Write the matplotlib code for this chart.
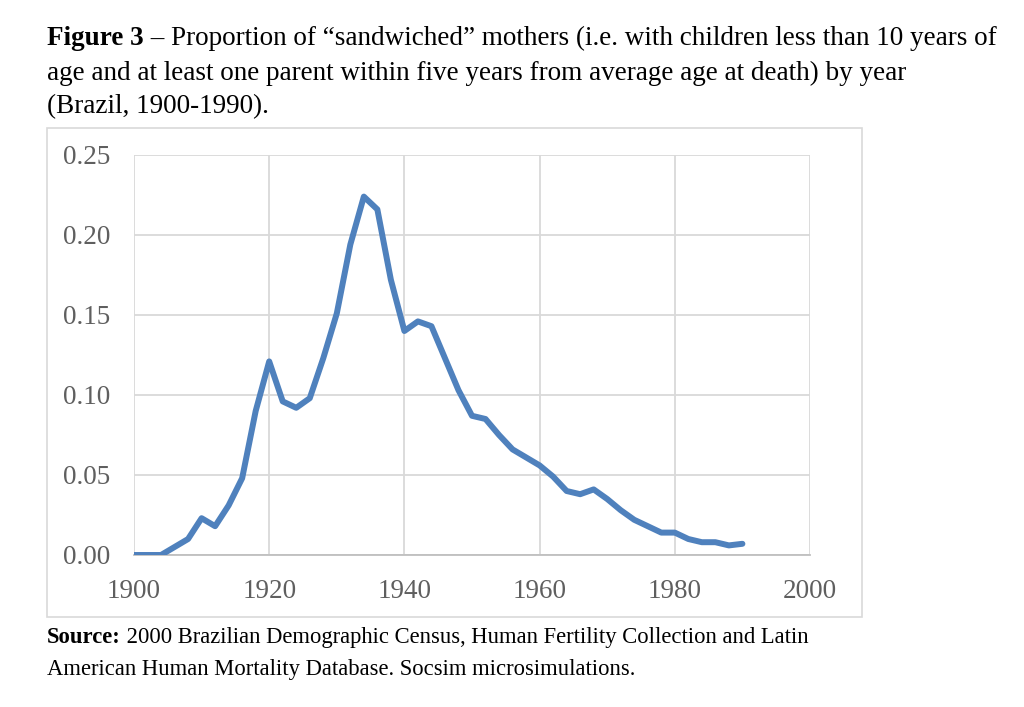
import matplotlib.pyplot as plt
from matplotlib.patches import Rectangle

# data (2-year steps)
years = [1900, 1902, 1904, 1906, 1908, 1910, 1912, 1914, 1916, 1918,
         1920, 1922, 1924, 1926, 1928, 1930, 1932, 1934, 1936, 1938,
         1940, 1942, 1944, 1946, 1948, 1950, 1952, 1954, 1956, 1958,
         1960, 1962, 1964, 1966, 1968, 1970, 1972, 1974, 1976, 1978,
         1980, 1982, 1984, 1986, 1988, 1990]
share = [0.000, 0.000, 0.000, 0.005, 0.010, 0.023, 0.018, 0.031, 0.048, 0.090,
         0.121, 0.096, 0.092, 0.098, 0.123, 0.151, 0.194, 0.224, 0.216, 0.172,
         0.140, 0.146, 0.143, 0.123, 0.103, 0.087, 0.085, 0.075, 0.066, 0.061,
         0.056, 0.049, 0.040, 0.038, 0.041, 0.035, 0.028, 0.022, 0.018, 0.014,
         0.014, 0.010, 0.008, 0.008, 0.006, 0.007]

x_ticks = [1900, 1920, 1940, 1960, 1980, 2000]
y_ticks = [0.00, 0.05, 0.10, 0.15, 0.20, 0.25]

title_lines = ['Figure 3',
               ' \u2013 Proportion of \u201csandwiched\u201d mothers (i.e. with children less than 10 years of',
               'age and at least one parent within five years from average age at death) by year',
               '(Brazil, 1900-1990).']
source_lines = ['Source:',
                ' 2000 Brazilian Demographic Census, Human Fertility Collection and Latin',
                'American Human Mortality Database. Socsim microsimulations.']

plt.rcParams['font.family'] = ['Liberation Serif', 'DejaVu Serif']

W, H = 1024, 707
fig = plt.figure(figsize=(W / 100, H / 100), dpi=100)

# caption: bold lead-in, then the rest on the same baseline
tsize = 19.5
t = fig.text(47 / W, 1 - 45 / H, title_lines[0], fontsize=tsize,
             fontweight='bold', va='baseline')
fig.canvas.draw()
bb = t.get_window_extent()
fig.text(bb.x1 / W, 1 - 45 / H, title_lines[1], fontsize=tsize, va='baseline')
fig.text(47 / W, 1 - 80 / H, title_lines[2], fontsize=tsize, va='baseline')
fig.text(47 / W, 1 - 113 / H, title_lines[3], fontsize=tsize, va='baseline')

# chart frame
fig.patches.append(Rectangle((47 / W, 1 - 617 / H), 815 / W, 489 / H,
                             transform=fig.transFigure, fill=False,
                             edgecolor='#d9d9d9', linewidth=1.2))

ax = fig.add_axes([134 / W, 1 - 555 / H, 676 / W, 400 / H])
ax.plot(years, share, color='#4f81bd', linewidth=4.3, solid_joinstyle='round',
        solid_capstyle='round', zorder=3)
ax.set_xlim(1900, 2000)
ax.set_ylim(0, 0.25)
ax.set_xticks(x_ticks)
ax.set_yticks(y_ticks)
ax.set_yticklabels(['%.2f' % v for v in y_ticks])
ax.grid(True, color='#d9d9d9', linewidth=1.3)
for s in ['top', 'right', 'left']:
    ax.spines[s].set_visible(False)
ax.spines['bottom'].set_color('#bfbfbf')
ax.spines['bottom'].set_linewidth(1.3)
ax.tick_params(length=0, labelsize=19.5, colors='#5f5f5f')
ax.tick_params(axis='x', pad=17.5)
ax.tick_params(axis='y', pad=17)
ax.set_axisbelow(True)

# source note
ssize = 16.3
s = fig.text(47 / W, 1 - 643 / H, source_lines[0], fontsize=ssize,
             fontweight='bold', va='baseline')
fig.canvas.draw()
bb = s.get_window_extent()
fig.text(bb.x1 / W, 1 - 643 / H, source_lines[1], fontsize=ssize, va='baseline')
fig.text(47 / W, 1 - 675 / H, source_lines[2], fontsize=ssize, va='baseline')

fig.savefig('out.png', dpi=100)
